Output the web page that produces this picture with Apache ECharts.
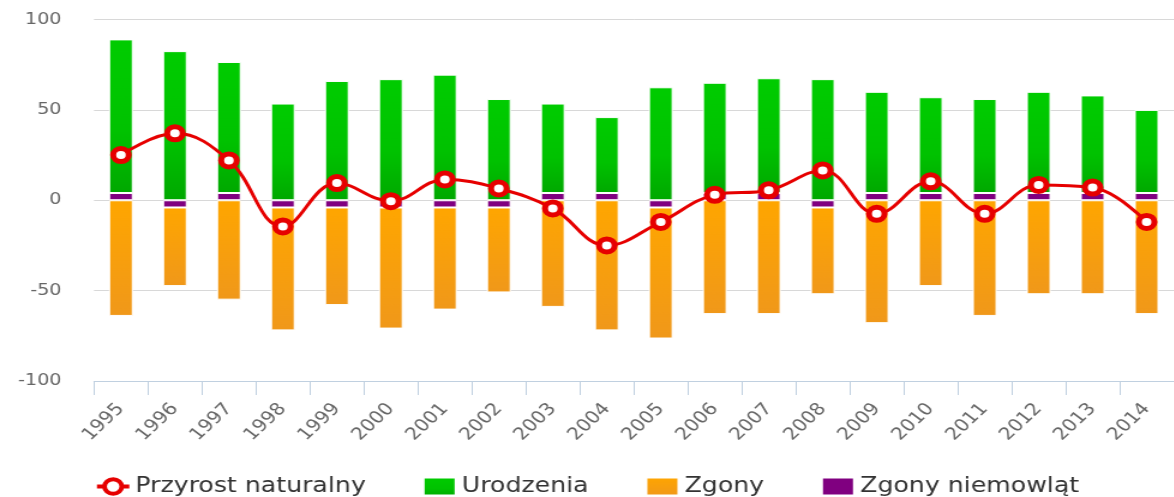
<!DOCTYPE html>
<html>
<head>
<meta charset="utf-8">
<script src="https://cdn.jsdelivr.net/npm/echarts@6/dist/echarts.min.js"></script>
<style>
html,body{margin:0;padding:0;background:#fff;overflow:hidden;}
#wrap{width:1174px;height:497px;overflow:hidden;position:relative;}
#chart{width:978px;height:497px;transform:scaleX(1.2);transform-origin:0 0;}
</style>
</head>
<body>
<div id="wrap"><div id="chart"></div></div>
<script>
const years = ['1995','1996','1997','1998','1999','2000','2001','2002','2003','2004','2005','2006','2007','2008','2009','2010','2011','2012','2013','2014'];
const urodzenia = [85, 82.5, 72.5, 53.5, 66, 67, 69.5, 56, 49.5, 42, 62.5, 61, 63.5, 67, 56, 53, 52, 56, 54, 46];
const zgony = [-64, -43.5, -55, -68, -54, -67, -56.5, -47, -59, -72, -72.5, -63, -63, -48, -68, -47.5, -64, -52, -52, -63];
const zgonyNiemowlat = [4, -4, 4, -4, -4, -4, -4, -4, 4, 4, -4, 4, 4, -4, 4, 4, 4, 4, 4, 4];
const przyrost = [25, 37, 22, -14.5, 9.5, -0.5, 11.5, 6.5, -4.5, -25, -12, 3, 5.5, 16.5, -7.5, 10.5, -7.5, 8.5, 7, -12];
const yTicks = {min: -100, max: 100, interval: 50};

const FONT = 'DejaVu Sans';
const chart = echarts.init(document.getElementById('chart'), null, {renderer: 'canvas'});

const greenGrad = new echarts.graphic.LinearGradient(0, 0, 0, 1, [
  {offset: 0, color: '#00cc00'}, {offset: 0.6, color: '#00c200'}, {offset: 1, color: '#00a800'}
]);
const orangeGrad = new echarts.graphic.LinearGradient(0, 0, 0, 1, [
  {offset: 0, color: '#ffa600'}, {offset: 1, color: '#f0981a'}
]);

chart.setOption({
  animation: false,
  textStyle: {fontFamily: FONT},
  grid: {left: 78.3, top: 19.5, width: 908.4, height: 361.5, containLabel: false},
  legend: {
    left: 'center', top: 471,
    itemWidth: 27, itemHeight: 18, itemGap: 47,
    textStyle: {fontSize: 21, color: '#333', fontFamily: FONT},
    data: [
      {name: 'Przyrost naturalny', itemStyle: {borderWidth: 4}, lineStyle: {width: 4}},
      {name: 'Urodzenia', icon: 'rect'},
      {name: 'Zgony', icon: 'rect'},
      {name: 'Zgony niemowląt', icon: 'rect'}
    ]
  },
  xAxis: {
    type: 'category', data: years, boundaryGap: true,
    axisLine: {onZero: false, lineStyle: {color: '#c0d0e0', width: 1}},
    axisTick: {show: true, alignWithLabel: false, length: 14, lineStyle: {color: '#c0d0e0'}},
    axisLabel: {interval: 0, rotate: 48, margin: 25, fontSize: 17, color: '#666', fontFamily: FONT},
    splitLine: {show: false}
  },
  yAxis: {
    type: 'value', min: yTicks.min, max: yTicks.max, interval: yTicks.interval,
    axisLine: {show: false}, axisTick: {show: false},
    axisLabel: {margin: 27, fontSize: 16, color: '#666', fontFamily: FONT},
    splitLine: {lineStyle: {color: '#d8d8d8', width: 1}}
  },
  series: [
    {
      name: 'Zgony niemowląt', type: 'bar', stack: 'a', barWidth: 20, data: zgonyNiemowlat,
      itemStyle: {color: '#800080', borderColor: '#fff', borderWidth: 1}
    },
    {
      name: 'Urodzenia', type: 'bar', stack: 'a', barWidth: 20, data: urodzenia,
      itemStyle: {color: greenGrad, borderColor: '#fff', borderWidth: 1}
    },
    {
      name: 'Zgony', type: 'bar', stack: 'a', barWidth: 20, data: zgony,
      itemStyle: {color: orangeGrad, borderColor: '#fff', borderWidth: 1}
    },
    {
      name: 'Przyrost naturalny', type: 'line', data: przyrost, smooth: 0.4, z: 10,
      symbol: 'circle', symbolSize: 13,
      lineStyle: {color: '#e60000', width: 3},
      itemStyle: {color: '#fff', borderColor: '#e60000', borderWidth: 5}
    }
  ]
});
</script>
</body>
</html>
